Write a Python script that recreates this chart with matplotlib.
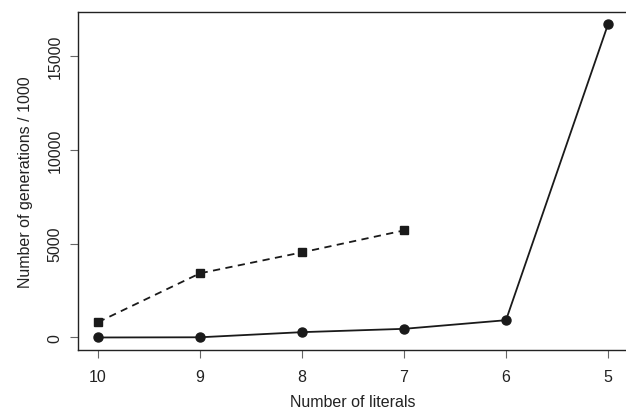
import matplotlib
matplotlib.use("Agg")
import matplotlib.pyplot as plt

plt.rcParams['font.family'] = ['Liberation Sans', 'DejaVu Sans']

literals = [10, 9, 8, 7, 6, 5]
solid_vals = [0, 10, 283, 460, 920, 16670]
dashed_x = [10, 9, 8, 7]
dashed_vals = [814, 3416, 4531, 5699]
yticks = [0, 5000, 10000, 15000]

fig = plt.figure(figsize=(6.26, 4.14), dpi=100)
left, right, top, bottom = 77.6, 628.4, 12.8, 351.0
ax = fig.add_axes([left/626, 1-bottom/414, (right-left)/626, (bottom-top)/414])

ax.plot(literals, solid_vals, color='#1a1a1a', lw=1.3, marker='o', ms=6.5, clip_on=False)
ax.plot(dashed_x, dashed_vals, color='#1a1a1a', lw=1.3, ls=(0, (4, 3)), marker='s', ms=5.5)

ax.set_xlim(10.2, 4.8)
rng = max(solid_vals) - 0
ax.set_ylim(0 - 0.04*rng, max(solid_vals) + 0.04*rng)
ax.set_xticks(literals)
ax.set_xticklabels([str(v) for v in literals])
ax.set_yticks(yticks)
ax.set_yticklabels([str(v) for v in yticks], rotation=90, va='center')

for s in ax.spines.values():
    s.set_color('#222222')
    s.set_linewidth(1.0)
ax.tick_params(axis='both', colors='#666666', labelsize=11.5, length=6, width=0.8, pad=5)
ax.tick_params(axis='x', pad=8)
ax.tick_params(axis='both', labelcolor='#222222')

ax.set_xlabel('Number of literals', fontsize=11.5, color='#222222', labelpad=7)
ax.set_ylabel('Number of generations / 1000', fontsize=11.5, color='#222222', labelpad=10)

fig.savefig('out.png', dpi=100)
